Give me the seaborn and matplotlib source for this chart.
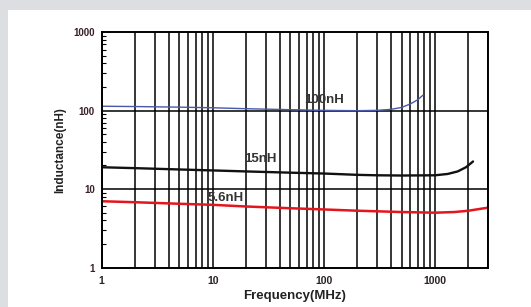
import numpy as np
import pandas as pd
import seaborn as sns
import matplotlib.pyplot as plt
from matplotlib.patches import Rectangle
from matplotlib.ticker import FixedLocator, LogLocator, NullFormatter

# frequency (MHz) and inductance (nH)
freq_100 = [1, 2, 5, 10, 20, 50, 100, 200, 300, 400, 500, 600, 700, 780]
ind_100 = [114, 113, 111, 109, 106, 103, 101, 100, 101, 104, 110, 122, 138, 158]

freq_15 = [1, 2, 5, 10, 20, 50, 100, 200, 300, 500, 1000, 1300, 1600, 1900, 2200]
ind_15 = [19, 18.5, 17.8, 17.3, 16.8, 16.2, 15.8, 15.2, 15.0, 14.9, 15.0, 15.6, 16.8, 19, 22.5]

freq_56 = [1, 2, 5, 10, 20, 50, 100, 200, 500, 1000, 1500, 2000, 3000]
ind_56 = [7.0, 6.8, 6.5, 6.3, 6.0, 5.7, 5.5, 5.3, 5.1, 5.0, 5.1, 5.3, 5.8]

series = ["100nH", "15nH", "5.6nH"]
colors = {"100nH": "#4a58a8", "15nH": "#111111", "5.6nH": "#e3161e"}
widths = {"100nH": 1.0, "15nH": 1.7, "5.6nH": 1.8}
label_pos = {"100nH": (101, 136), "15nH": (26.5, 23.9), "5.6nH": (13.1, 7.8)}

df = pd.concat([
    pd.DataFrame({"freq": freq_100, "ind": ind_100, "part": "100nH"}),
    pd.DataFrame({"freq": freq_15, "ind": ind_15, "part": "15nH"}),
    pd.DataFrame({"freq": freq_56, "ind": ind_56, "part": "5.6nH"}),
])

sns.set_style("white")
plt.rcParams["font.family"] = ["Liberation Sans", "DejaVu Sans"]

fig = plt.figure(figsize=(5.31, 3.07), dpi=100)
fig.patch.set_facecolor("#dcdee1")
panel = Rectangle((8 / 531, 0), 1, 1 - 10 / 307, transform=fig.transFigure,
                  facecolor="white", edgecolor="none", zorder=-10)
fig.add_artist(panel)
ax = fig.add_axes([101.7 / 531, 1 - 267.5 / 307, (488 - 101.7) / 531, (267.5 - 32.3) / 307])
ax.set_facecolor("white")

for name in series:
    sub = df[df["part"] == name]
    sns.lineplot(data=sub, x="freq", y="ind", color=colors[name], linewidth=widths[name],
                 ax=ax, zorder=3)
    ax.text(*label_pos[name], name, ha="center", va="center", fontsize=9.5,
            fontweight="bold", color="#333333", zorder=4)

ax.set_xscale("log")
ax.set_yscale("log")
ax.set_xlim(1, 3000)
ax.set_ylim(1, 1000)

# vertical grid at every decade step, horizontal only at 10 and 100
xgrid = [m * 10 ** d for d in range(4) for m in range(1, 10) if m * 10 ** d <= 3000]
for xv in xgrid:
    ax.axvline(xv, color="black", linewidth=1.1, zorder=1)
for yv in [10, 100]:
    ax.axhline(yv, color="black", linewidth=1.1, zorder=1)

ax.xaxis.set_major_locator(FixedLocator([1, 10, 100, 1000]))
ax.set_xticklabels(["1", "10", "100", "1000"])
ax.xaxis.set_minor_locator(FixedLocator([]))
ax.yaxis.set_major_locator(FixedLocator([1, 10, 100, 1000]))
ax.set_yticklabels(["1", "10", "100", "1000"])
ax.yaxis.set_minor_locator(LogLocator(base=10, subs=np.arange(2, 10)))
ax.yaxis.set_minor_formatter(NullFormatter())
ax.tick_params(axis="x", length=0, pad=6, labelsize=7.5, labelcolor="#2a2226")
ax.tick_params(axis="y", which="major", length=0, pad=5, labelsize=7, labelcolor="#3a2029")
ax.tick_params(axis="y", which="minor", direction="in", length=3, width=0.8, color="black", left=True)
for lab in ax.get_xticklabels() + ax.get_yticklabels():
    lab.set_fontweight("bold")

for sp in ax.spines.values():
    sp.set_color("black")
    sp.set_linewidth(1.4)
    sp.set_zorder(5)

ax.set_xlabel("Frequency(MHz)", fontsize=9.5, fontweight="bold", color="#222222", labelpad=3)
ax.set_ylabel("Inductance(nH)", fontsize=8.5, fontweight="bold", color="#222222", labelpad=5)

fig.savefig("out.png", dpi=100, facecolor=fig.get_facecolor())
